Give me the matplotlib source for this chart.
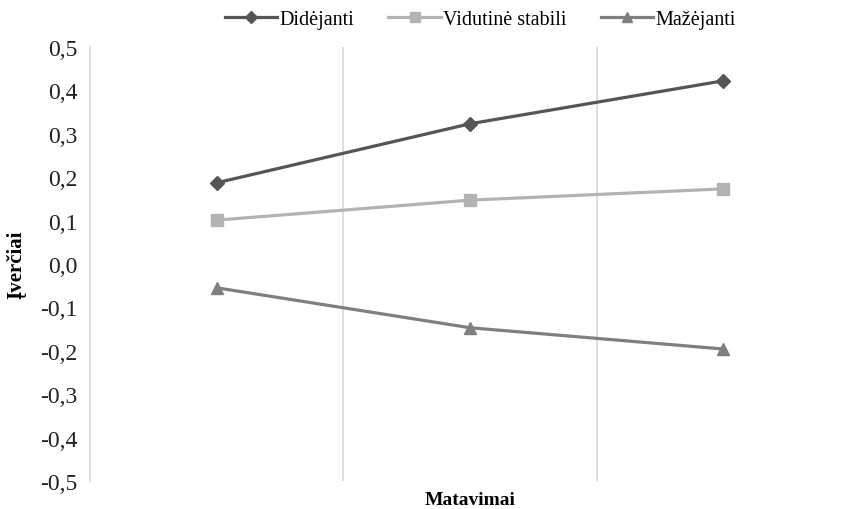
import matplotlib.pyplot as plt
from matplotlib.lines import Line2D
import numpy as np

plt.rcParams['font.family'] = ['Liberation Serif', 'DejaVu Serif']

# Estimates for three measurement points
measurements = ['1', '2', '3']
series_names = ['Didėjanti', 'Vidutinė stabili', 'Mažėjanti']
didejanti = [0.187, 0.323, 0.422]
vidutine = [0.101, 0.147, 0.173]
mazejanti = [-0.055, -0.147, -0.196]
y_ticks = [0.5, 0.4, 0.3, 0.2, 0.1, 0.0, -0.1, -0.2, -0.3, -0.4, -0.5]

colors = ['#555555', '#b3b3b3', '#7f7f7f']
markers = ['D', 's', '^']
msizes = [7.5, 9, 9]

fig = plt.figure(figsize=(8.5, 5.1), dpi=100)
ax = fig.add_axes([0.106, 0.055, 0.894, 0.851])

x = np.arange(len(measurements))
for vals, name, c, m, ms in zip([didejanti, vidutine, mazejanti], series_names,
                                colors, markers, msizes):
    ax.plot(x, vals, color=c, lw=2.3, marker=m, ms=ms, label=name,
            solid_capstyle='round')

ax.set_xlim(-0.5, len(measurements) - 0.5)
ax.set_ylim(-0.5, 0.5)

# gridlines sit between categories, like a spreadsheet chart
for gx in np.arange(0.5, len(measurements) - 0.5):
    ax.axvline(gx, color='#d9d9d9', lw=1.2, zorder=0)

ax.set_xticks([])
ax.set_yticks(y_ticks)
ax.set_yticklabels([f'{v:.1f}'.replace('.', ',') for v in y_ticks], fontsize=17,
                   color='#222222')
ax.tick_params(axis='y', length=0, pad=9)

for s in ['top', 'right', 'bottom']:
    ax.spines[s].set_visible(False)
ax.spines['left'].set_color('#d9d9d9')
ax.spines['left'].set_linewidth(1.2)

ax.set_ylabel('Įverčiai', fontsize=15, fontweight='bold', labelpad=10)
ax.set_xlabel('Matavimai', fontsize=14, fontweight='bold', labelpad=7)

handles = [Line2D([], [], color=c, lw=2.3, marker=m, ms=ms * 0.8)
           for c, m, ms in zip(colors, markers, msizes)]
fig.legend(handles, series_names, loc='upper center', bbox_to_anchor=(0.565, 1.015),
           ncol=3, frameon=False, fontsize=14.5, handlelength=2.6,
           handletextpad=0.1, columnspacing=1.7)

fig.savefig('out.png', dpi=100)
